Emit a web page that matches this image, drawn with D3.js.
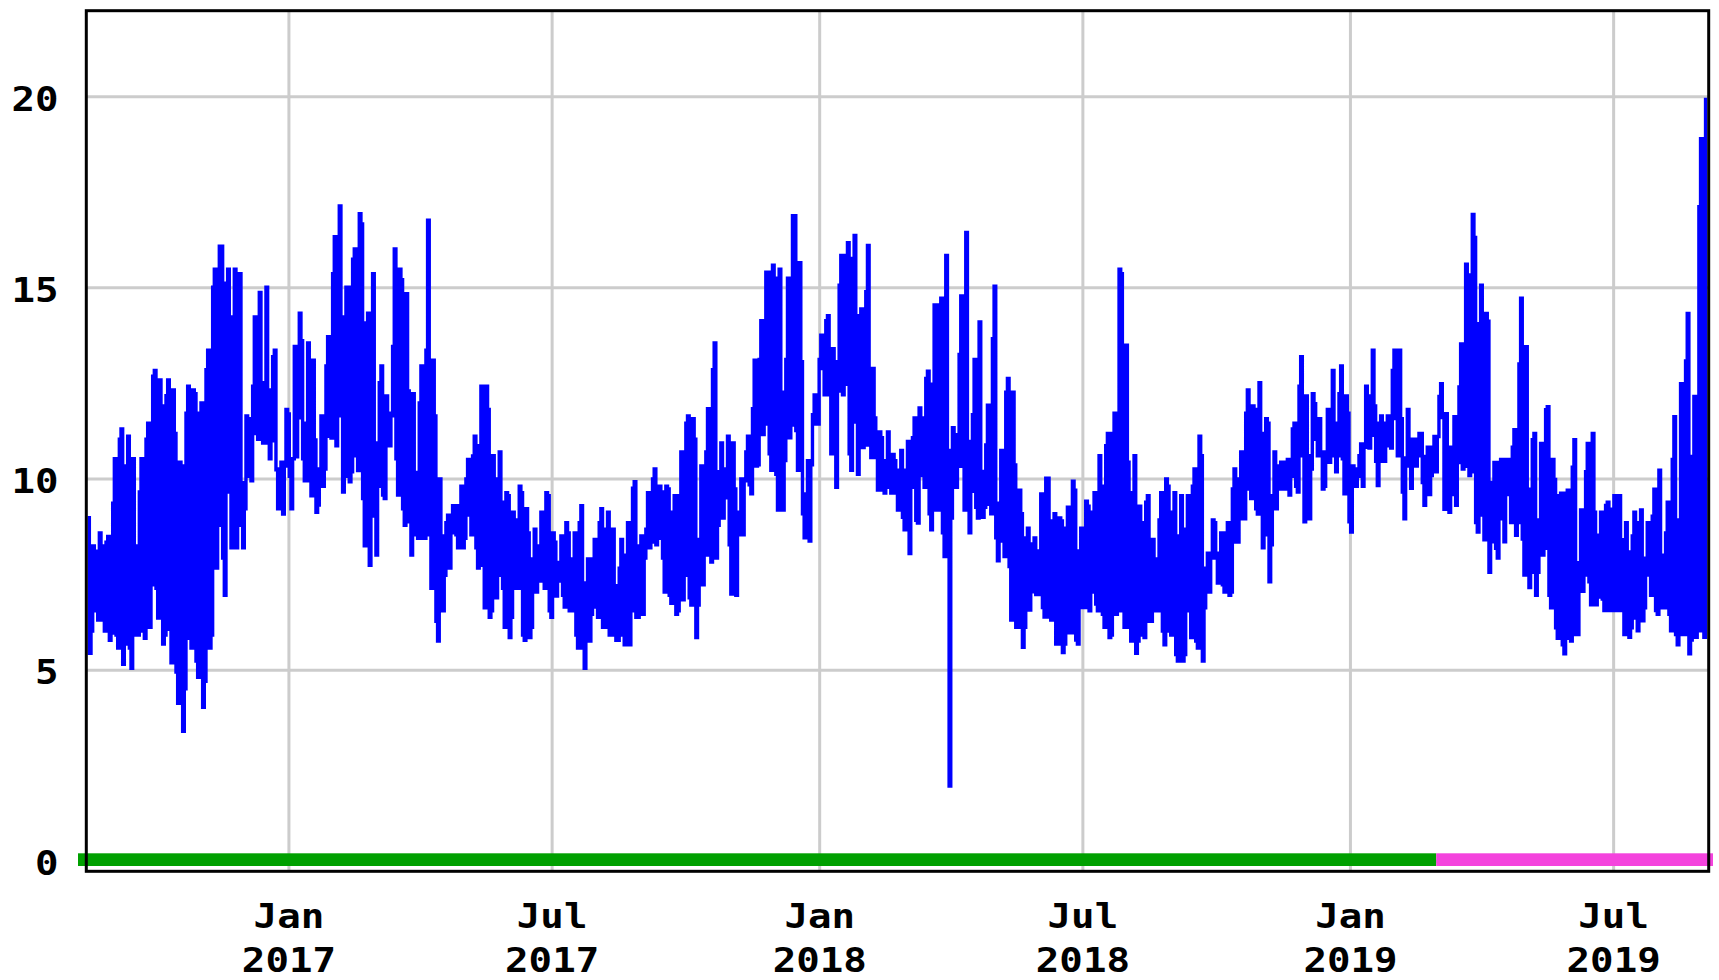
<!DOCTYPE html>
<html><head><meta charset="utf-8">
<script src="https://cdn.jsdelivr.net/npm/d3@7"></script>
<style>
html,body{margin:0;padding:0;background:#fff;}
svg{display:block;}
text{font-family:"DejaVu Sans Mono",monospace;font-weight:bold;font-size:34px;fill:#000;}
</style></head><body>
<svg id="chart" width="1719" height="980"></svg>
<script>
// ---- data ----
const domainStart = new Date(2016, 7, 15);
const domainEnd = new Date(2019, 8, 3);
const sampleStart = new Date(2016, 7, 16, 18);
const sampleStepHours = 55;
const approvedEnd = new Date(2019, 2, 1);
const yTicks = [0, 5, 10, 15, 20];
const xTicks = [new Date(2017,0,1), new Date(2017,6,1), new Date(2018,0,1), new Date(2018,6,1), new Date(2019,0,1), new Date(2019,6,1)];

const highs = [
9.03,8.25,8.11,8.59,8.25,8.35,8.50,9.37,10.53,11.04,
11.31,10.34,11.12,10.53,8.25,9.66,10.53,11.04,11.46,12.69,
12.84,12.59,11.91,12.18,12.59,12.33,11.19,10.44,10.34,11.72,
12.43,12.33,12.23,11.72,11.99,12.86,13.37,15.02,15.49,16.09,
16.09,15.12,15.49,14.24,15.49,15.37,9.90,11.65,11.58,12.43,
14.24,14.88,12.52,15.02,12.33,13.20,13.37,10.26,10.44,11.82,
11.70,10.53,13.47,14.34,13.62,11.46,13.56,13.11,11.02,10.26,
11.65,12.96,13.72,15.37,16.34,17.14,14.24,15.02,15.02,15.75,
16.02,16.94,16.67,14.08,14.34,15.37,10.94,12.52,12.96,12.17,
11.72,13.47,16.02,15.49,15.21,14.85,12.30,12.23,10.17,11.99,
12.96,
13.37,16.77,13.11,11.65,10.00,8.51,8.86,9.05,9.30,9.30,
9.30,9.81,10.00,10.51,10.60,11.12,10.87,12.43,12.43,11.82,
10.61,10.00,10.71,9.39,9.64,9.56,9.13,8.93,9.81,9.64,
9.22,8.59,7.91,8.69,8.25,9.13,9.64,9.56,8.59,8.35,
7.82,8.51,8.86,8.59,7.91,8.59,8.86,9.30,7.28,7.91,
7.91,8.42,8.86,9.22,8.69,9.13,8.69,7.21,7.67,8.42,
8.01,8.86,9.76,9.93,8.25,8.51,8.69,9.64,10.00,10.26,
9.81,9.66,9.81,9.74,9.13,9.56,9.56,10.71,11.46,11.65,
11.58,11.04,8.42,10.34,10.71,11.84,12.86,13.56,10.19,10.94,
10.26,11.12,10.94,9.74,9.13,10.00,10.71,11.12,11.84,13.11,
13.13,14.14,15.41,15.41,15.59,15.25,15.49,12.27,13.13,15.25,
16.89,16.89,15.66,13.07,9.61,10.48,11.68,12.20,13.13,13.76,
14.14,14.27,13.41,13.07,15.07,15.85,15.85,16.18,15.77,16.37,
14.27,14.45,14.90,16.11,12.89,11.60,11.23,11.08,10.48,11.23,
10.64,10.48,10.23,10.75,10.23,10.98,11.08,11.60,11.86,11.60,
12.63,12.82,12.48,14.55,14.55,14.73,15.85,10.75,11.34,11.16,
13.26,14.79,16.45,10.98,11.68,13.13,14.11,10.20,10.89,11.93,
13.67,15.04,9.37,10.75,12.27,12.63,12.27,10.37,9.71,9.09,
8.46,8.71,8.30,8.46,8.12,9.61,10.02,10.02,8.90,9.09,
8.98,8.90,8.71,9.26,9.94,9.71,8.12,8.71,9.42,
9.29,9.13,9.64,10.61,9.81,10.87,11.19,11.19,11.72,15.49,
15.37,13.50,10.44,9.64,10.61,9.29,8.86,9.39,9.56,8.42,
7.91,8.93,9.64,10.00,9.81,9.13,9.64,8.51,9.56,8.69,
9.56,9.81,10.26,11.12,10.61,7.67,8.06,8.93,8.86,8.06,
8.59,8.59,8.86,9.74,10.26,10.00,10.71,11.72,12.33,11.91,
11.82,12.52,11.19,11.58,11.46,9.56,10.71,10.34,10.44,10.44,
10.51,11.31,11.46,12.43,13.20,12.17,10.61,12.23,11.97,11.58,
10.71,10.71,11.82,12.84,11.46,12.23,12.96,12.17,11.72,10.34,
10.26,10.61,10.92,12.43,12.17,13.37,11.91,11.46,11.65,11.46,
11.65,12.84,13.37,13.37,11.58,10.55,11.82,11.04,11.04,
11.19,11.19,10.59,10.83,10.83,11.11,12.16,12.49,11.71,10.83,
10.83,11.63,12.41,13.53,15.62,15.34,16.92,16.32,14.06,15.07,
14.33,14.13,9.91,10.43,10.43,10.51,10.51,10.51,10.83,11.29,
13.01,14.73,13.46,9.73,11.03,11.19,8.93,10.93,11.81,11.89,
10.51,9.99,9.56,9.63,9.63,9.71,10.31,11.03,7.81,9.19,
10.19,10.93,11.19,9.13,8.53,9.13,9.31,9.39,9.21,9.56,
9.56,8.41,8.86,8.09,8.51,9.13,8.86,9.19,7.93,8.86,
9.03,9.73,10.23,8.01,8.59,9.39,10.51,11.63,8.93,12.49,
13.09,14.33,10.59,12.16,17.12,18.90,19.97
];

const lows = [
5.44,6.02,6.55,6.31,6.31,6.02,5.78,5.97,5.92,5.58,
5.15,5.68,5.58,5.05,5.92,5.92,6.02,5.83,6.12,7.23,
7.14,6.36,5.68,5.92,6.07,5.19,4.95,4.13,3.40,4.51,
5.83,5.58,5.24,4.81,4.03,4.71,5.58,5.92,7.67,8.79,
7.93,6.96,9.66,8.20,8.20,8.79,8.20,9.22,10.07,9.95,
11.19,11.04,10.94,10.94,10.53,11.00,10.24,9.22,9.08,10.34,
10.07,9.22,10.58,11.60,10.53,9.95,9.95,9.56,9.13,9.32,
9.81,10.26,11.12,11.07,10.87,11.65,9.66,10.07,9.93,10.19,
10.61,10.22,9.49,8.25,7.74,9.03,8.01,9.81,9.58,9.49,
10.87,11.65,10.53,9.58,9.22,8.79,8.88,8.01,8.54,8.45,
8.45,
8.45,8.54,7.14,6.28,5.76,6.55,7.48,7.67,8.59,8.54,
8.20,8.20,8.45,9.06,8.54,8.20,7.67,7.74,6.63,6.38,
6.55,6.89,7.48,7.14,6.12,5.85,6.38,7.14,7.14,5.92,
5.78,5.85,6.12,7.04,7.33,7.33,7.14,6.55,6.38,6.94,
7.33,6.96,6.65,6.55,6.55,5.92,5.58,5.58,5.05,5.76,
6.46,6.65,6.38,6.12,6.12,5.92,5.92,5.78,5.78,5.92,
5.66,5.66,6.55,6.38,6.38,6.46,7.93,8.20,8.35,8.28,
8.45,7.93,7.04,6.96,6.75,6.46,6.55,6.84,7.48,6.89,
6.70,5.85,6.70,7.23,8.01,8.01,7.83,7.93,8.79,8.98,
9.51,8.28,6.99,6.96,8.54,8.54,9.95,9.85,9.61,10.34,
10.37,11.16,11.44,10.66,10.23,10.12,9.19,9.19,10.48,11.08,
11.41,11.27,10.23,9.09,8.46,8.38,10.37,11.44,11.44,12.89,
12.20,12.20,10.66,9.78,12.30,12.20,12.48,10.66,10.23,11.49,
10.12,10.82,10.89,10.89,10.56,10.56,9.71,9.71,9.63,9.78,
9.63,9.63,9.19,9.00,8.67,8.05,9.78,8.92,8.85,10.09,
9.78,9.09,8.67,9.19,9.19,8.59,7.97,1.97,8.98,9.78,
10.33,10.33,9.19,8.59,9.68,9.26,8.98,9.00,9.26,9.34,
9.09,8.46,7.86,8.38,7.97,7.71,6.31,6.12,6.12,5.60,
6.12,6.57,7.05,6.98,6.98,6.64,6.39,6.39,6.31,5.68,
5.68,5.46,5.68,5.98,5.98,5.79,5.68,6.64,6.64,
6.55,7.04,6.73,6.55,6.46,6.12,5.85,5.92,6.46,6.55,
6.55,6.12,6.12,5.76,5.44,5.76,5.92,5.85,6.28,6.28,
6.55,6.55,6.02,5.66,6.02,5.92,5.41,5.24,5.24,5.41,
6.55,5.85,5.76,5.58,5.24,6.63,7.04,7.93,7.93,7.28,
7.23,7.04,6.96,7.04,8.35,8.35,8.96,8.96,9.74,9.49,
9.22,9.08,8.20,8.54,7.31,8.28,9.22,9.74,9.74,9.74,
9.58,10.07,9.81,9.66,10.61,8.88,8.96,10.26,11.04,10.61,
9.74,9.81,10.44,10.61,10.19,10.61,10.53,9.61,8.88,8.61,
9.81,10.07,9.81,10.83,10.81,11.14,10.46,9.83,10.46,10.46,
10.87,10.81,11.58,10.61,9.66,8.96,10.34,9.76,10.34,
10.61,9.91,9.31,9.59,10.09,10.19,11.11,11.61,9.21,9.13,
9.59,9.31,10.43,10.26,10.33,10.09,10.19,8.86,8.61,9.06,
8.41,7.56,8.36,8.19,7.93,8.96,8.36,9.59,8.86,8.53,
8.86,8.43,7.49,7.16,7.56,6.96,7.56,8.01,8.19,6.96,
6.63,6.11,5.83,5.66,5.43,5.83,5.76,5.93,5.93,7.06,
7.49,7.31,6.71,6.71,6.91,6.86,6.56,6.56,6.56,6.56,
6.56,6.56,5.93,5.86,6.11,6.36,6.03,6.29,6.63,7.49,
6.96,6.56,6.46,6.63,6.63,6.46,6.03,5.93,5.66,5.93,
5.93,5.43,5.79,5.86,6.03,6.03,5.86
];

// ---- layout ----
const frame = {left: 86.3, right: 1708.7, top: 10.7, bottom: 871.3};
const svg = d3.select("#chart");

const x = d3.scaleTime().domain([domainStart, domainEnd]).range([86.8, 1706.7]);
const y = d3.scaleLinear().domain([0, 20]).range([861.3, 96.7]);

const grid = svg.append("g").attr("stroke", "#cccccc").attr("stroke-width", 3);
grid.selectAll("line.h").data(yTicks).join("line").attr("class", "h")
  .attr("x1", frame.left).attr("x2", frame.right)
  .attr("y1", d => y(d)).attr("y2", d => y(d));
grid.selectAll("line.v").data(xTicks).join("line").attr("class", "v")
  .attr("x1", d => x(d)).attr("x2", d => x(d))
  .attr("y1", frame.top).attr("y2", frame.bottom);

svg.append("clipPath").attr("id", "plotclip").append("rect")
  .attr("x", frame.left).attr("y", frame.top)
  .attr("width", frame.right - frame.left).attr("height", frame.bottom - frame.top);

const pts = [];
highs.forEach((h, i) => {
  const t = d3.timeHour.offset(sampleStart, i * sampleStepHours);
  if (i % 2 === 0) { pts.push([t, h]); pts.push([t, lows[i]]); }
  else { pts.push([t, lows[i]]); pts.push([t, h]); }
});
const line = d3.line().x(d => x(d[0])).y(d => y(d[1])).curve(d3.curveStep);
svg.append("path").datum(pts)
  .attr("clip-path", "url(#plotclip)")
  .attr("d", line)
  .attr("fill", "none").attr("stroke", "#0000ff")
  .attr("stroke-width", 3.4).attr("stroke-linejoin", "miter").attr("stroke-miterlimit", 4);

// approval status bar
const barY = y(0) - 8, barH = 12.7;
svg.append("rect").attr("x", x(domainStart) - 8.8).attr("y", barY)
  .attr("width", x(approvedEnd) - (x(domainStart) - 8.8)).attr("height", barH).attr("fill", "#00a000");
svg.append("rect").attr("x", x(approvedEnd)).attr("y", barY)
  .attr("width", (x(domainEnd) + 6.3) - x(approvedEnd)).attr("height", barH).attr("fill", "#f443dd");

// frame
svg.append("rect").attr("x", frame.left).attr("y", frame.top)
  .attr("width", frame.right - frame.left).attr("height", frame.bottom - frame.top)
  .attr("fill", "none").attr("stroke", "#000").attr("stroke-width", 3);

// y labels
svg.append("g").selectAll("text").data(yTicks).join("text")
  .attr("transform", d => `translate(58.5,${y(d) + 14}) scale(1.15,1)`)
  .attr("text-anchor", "end").text(d => d);

// x labels
const fmtM = d3.timeFormat("%b"), fmtY = d3.timeFormat("%Y");
const xl = svg.append("g");
xl.selectAll("text.m").data(xTicks).join("text").attr("class", "m")
  .attr("transform", d => `translate(${x(d)},928) scale(1.15,1)`)
  .attr("text-anchor", "middle").text(d => fmtM(d));
xl.selectAll("text.y").data(xTicks).join("text").attr("class", "y")
  .attr("transform", d => `translate(${x(d)},972) scale(1.15,1)`)
  .attr("text-anchor", "middle").text(d => fmtY(d));
</script>
</body></html>
